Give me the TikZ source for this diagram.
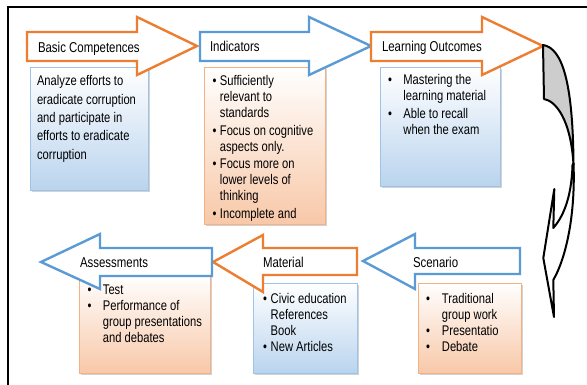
\documentclass[tikz,border=0pt]{standalone}
\usepackage{fontspec}
\newfontfamily\nf{Liberation Sans}[FakeStretch=0.8]
\usetikzlibrary{shadows}
\definecolor{orA}{RGB}{237,125,49}
\definecolor{blA}{RGB}{91,155,213}
\definecolor{blF}{RGB}{186,212,238}
\definecolor{blB}{RGB}{157,195,230}
\definecolor{orF}{RGB}{248,200,168}
\definecolor{orB}{RGB}{244,177,131}
\definecolor{grF}{RGB}{205,205,205}
\begin{document}
\begin{tikzpicture}[x=1pt,y=-1pt,
  every node/.style={font=\nf\fontsize{14}{16}\selectfont, inner sep=0pt, outer sep=0pt},
  boxb/.style={draw=blB, line width=0.8pt, top color=white, bottom color=blF,
    drop shadow={shadow xshift=2pt, shadow yshift=-2pt, opacity=0.35}, anchor=north west},
  boxo/.style={draw=orB, line width=0.8pt, top color=white, bottom color=orF,
    drop shadow={shadow xshift=2pt, shadow yshift=-2pt, opacity=0.35}, anchor=north west},
  arrO/.style={draw=orA, line width=2.4pt, fill=white, line join=miter},
  arrB/.style={draw=blA, line width=2.4pt, fill=white, line join=miter},
  lbl/.style={anchor=base west, font=\nf\fontsize{14.3}{16}\selectfont},
  txt/.style={anchor=base west},
  curv/.style={draw=black, line width=2pt, line join=round}
]
\clip (0,0) rectangle (587,385);
\fill[white] (0,0) rectangle (587,385);
% frame
\draw[line width=1.6pt] (8,400) -- (8,7) -- (600,7);

% ---------- boxes ----------
\node[boxb, minimum width=118pt, minimum height=123pt] (b1) at (30,67) {};
\node[boxo, minimum width=121pt, minimum height=157pt] (b2) at (204,67) {};
\node[boxb, minimum width=120pt, minimum height=119pt] (b3) at (380,67) {};
\node[boxo, minimum width=131pt, minimum height=99pt] (b4) at (79,274) {};
\node[boxb, minimum width=104pt, minimum height=90pt] (b5) at (253,283) {};
\node[boxo, minimum width=103pt, minimum height=90pt] (b6) at (418,283) {};

% ---------- box texts ----------
\node[txt] (t1) at (37,86) {\fontsize{14}{18.3}\selectfont\begin{tabular}[t]{@{}l@{}}
Analyze efforts to\\ eradicate corruption\\ and participate in\\ efforts to eradicate\\ corruption\end{tabular}};

\node[txt] (t2) at (212.5,86) {\begin{tabular}[t]{@{}l@{\hspace{3.5pt}}l@{}}
• & Sufficiently\\ & relevant to\\ & standards\\[1.5pt]
• & Focus on cognitive\\ & aspects only.\\[1.5pt]
• & Focus more on\\ & lower levels of\\ & thinking\\[1.5pt]
• & Incomplete and\end{tabular}};

\node[txt] (t3) at (388,85) {\begin{tabular}[t]{@{}l@{\hspace{11.5pt}}l@{}}
• & Mastering the\\ & learning material\\[2pt]
• & Able to recall\\ & when the exam\end{tabular}};

\node[txt] (t4) at (87.5,294.3) {\begin{tabular}[t]{@{}l@{\hspace{11.5pt}}l@{}}
• & Test\\
• & Performance of\\ & group presentations\\ & and debates\end{tabular}};

\node[txt] (t5) at (263,303.3) {\begin{tabular}[t]{@{}l@{\hspace{3.8pt}}l@{}}
• & Civic education\\ & References\\ & Book\\
• & New Articles\end{tabular}};

\node[txt] (t6) at (426,303.3) {\begin{tabular}[t]{@{}l@{\hspace{12pt}}l@{}}
• & Traditional\\ & group work\\
• & Presentatio\\
• & Debate\end{tabular}};

% ---------- top arrows ----------
\draw[arrO] (27,32) -- (137,32) -- (137,17) -- (197,46) -- (137,75) -- (137,61) -- (27,61) -- cycle;
\draw[arrB] (200,32) -- (309,32) -- (309,17) -- (371,46) -- (309,75) -- (309,61) -- (200,61) -- cycle;
\draw[arrO] (371,32) -- (482,32) -- (482,17) -- (543,46) -- (482,75) -- (482,61) -- (371,61) -- cycle;

% ---------- bottom arrows ----------
\draw[arrB] (520,248) -- (415,248) -- (415,234) -- (363,261) -- (415,289) -- (415,274) -- (520,274) -- cycle;
\draw[arrO] (357,248) -- (263,248) -- (263,235) -- (213,262) -- (263,292) -- (263,275) -- (357,275) -- cycle;
\draw[arrB] (212,248) -- (100,248) -- (100,234) -- (41,262) -- (100,289) -- (100,276) -- (212,276) -- cycle;

% ---------- arrow labels ----------
\node[lbl] (l1) at (38,52.3) {Basic Competences};
\node[lbl] (l2) at (210,52) {Indicators};
\node[lbl] (l3) at (382,51.5) {Learning Outcomes};
\node[lbl] (l4) at (80,267.7) {Assessments};
\node[lbl] (l5) at (263,267.3) {Material};
\node[lbl] (l6) at (413,267.7) {Scenario};

% ---------- curved arrow ----------
\draw[curv, fill=white] (573.5,163) .. controls (575.5,212) and (567,256) .. (553.3,280)
  -- (554,317) -- (543.3,258) -- (554.3,189) -- (553.3,228)
  .. controls (562,218) and (571.5,200) .. (572.5,165) -- cycle;
\draw[curv, fill=grF] (543,45) .. controls (563,48) and (573,85) .. (573.5,165)
  .. controls (571,120) and (556,101) .. (544,99) -- cycle;
\end{tikzpicture}
\end{document}
